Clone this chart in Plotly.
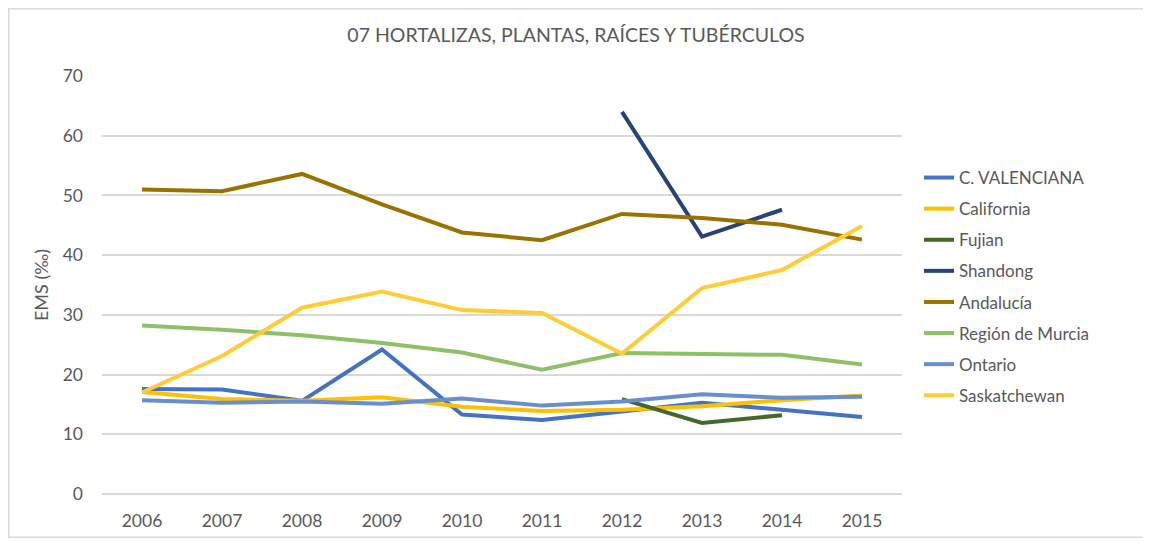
import plotly.graph_objects as go

years = ["2006", "2007", "2008", "2009", "2010", "2011", "2012", "2013", "2014", "2015"]

c_valenciana = [17.6, 17.5, 15.6, 24.2, 13.3, 12.4, 13.8, 15.3, 14.1, 12.9]
california = [17.1, 15.9, 15.6, 16.2, 14.6, 13.9, 14.1, 14.7, 15.7, 16.5]
fujian = [None, None, None, None, None, None, 15.9, 11.9, 13.2, None]
shandong = [None, None, None, None, None, None, 64.0, 43.1, 47.6, None]
andalucia = [51.0, 50.7, 53.6, 48.5, 43.8, 42.5, 46.9, 46.2, 45.1, 42.6]
murcia = [28.2, 27.5, 26.6, 25.3, 23.7, 20.8, 23.6, 23.4, 23.3, 21.7]
ontario = [15.7, 15.3, 15.5, 15.1, 16.0, 14.8, 15.5, 16.7, 16.1, 16.3]
saskatchewan = [17.0, 23.1, 31.2, 33.9, 30.8, 30.3, 23.5, 34.5, 37.5, 44.9]

series = [
    ("C. VALENCIANA", c_valenciana, "#4472C4"),
    ("California", california, "#FFC000"),
    ("Fujian", fujian, "#43682B"),
    ("Shandong", shandong, "#264478"),
    ("Andalucía", andalucia, "#997300"),
    ("Región de Murcia", murcia, "#8CC168"),
    ("Ontario", ontario, "#698ED0"),
    ("Saskatchewan", saskatchewan, "#FFCD33"),
]

FONT = "Lato"
GREY = "#595959"
W, H = 1143, 530
ML, MR, MT, MB = 94, 249, 68, 44

fig = go.Figure()
for i, (name, vals, col) in enumerate(series):
    fig.add_trace(go.Scatter(
        x=years, y=vals, name=name, mode="lines",
        line=dict(color=col, width=4),
        connectgaps=False, legendgroup=f"g{i}",
    ))

pw = W - ML - MR
ph = H - MT - MB
fig.update_layout(
    width=W, height=H,
    margin=dict(l=ML, r=MR, t=MT, b=MB, autoexpand=False),
    paper_bgcolor="white", plot_bgcolor="white",
    font=dict(family=FONT, color=GREY, size=17),
    title=dict(text="07 HORTALIZAS, PLANTAS, RAÍCES Y TUBÉRCULOS",
               x=(576 - 8) / W, xref="container", xanchor="center",
               y=1 - 27 / H, yref="container", yanchor="middle",
               font=dict(family=FONT, size=19.5, color=GREY)),
    showlegend=True,
    legend=dict(x=1 + 17 / pw, xanchor="left", y=1 - (160 - 76) / ph, yanchor="top",
                font=dict(family=FONT, size=17, color=GREY),
                tracegroupgap=6, bgcolor="rgba(0,0,0,0)"),
    xaxis=dict(type="category", range=[-0.5, 9.5], showgrid=False,
               showline=False, zeroline=False, ticks="", automargin=False,
               tickfont=dict(size=17.5, color=GREY), ticklabelstandoff=14),
    yaxis=dict(range=[0, 70], dtick=10, showgrid=True, gridcolor="#D9D9D9",
               gridwidth=1.5, zeroline=True, zerolinecolor="#D9D9D9", zerolinewidth=1.5,
               showline=False, ticks="", tickfont=dict(size=17.5, color=GREY),
               ticklabelstandoff=18, automargin=False,
               title=dict(text="EMS (‰)", font=dict(size=18, color=GREY), standoff=9)),
    shapes=[dict(type="rect", xref="paper", yref="paper",
                 x0=-(ML - 0.75) / pw, x1=1 + (MR - 0.75) / pw,
                 y0=-(MB - 0.75) / ph, y1=1 + (MT - 0.75) / ph,
                 line=dict(color="#D9D9D9", width=1.5), layer="below")],
)

fig.write_html("out.html")
